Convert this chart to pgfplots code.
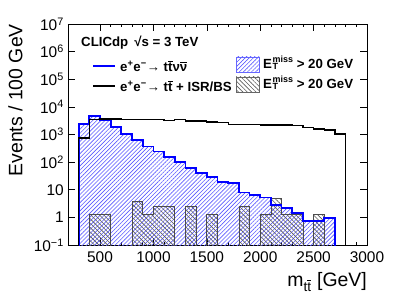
\documentclass[border=0pt]{standalone}
\usepackage{pgfplots}
\pgfplotsset{compat=1.18}
\usepackage{amsmath}
\usepackage{fontspec}
\setmainfont{Liberation Sans}
\usetikzlibrary{patterns.meta}
\newcommand{\tb}{\ensuremath{\overline{\mbox{t}}}}
\newcommand{\nub}{\ensuremath{\overline{\mbox{ν}}}}
\newcommand{\etmiss}{E\hspace{0.6bp}\rlap{\raisebox{-1bp}{\fontsize{9}{9}\selectfont T}}\raisebox{6.2bp}{\fontsize{9}{9}\selectfont miss}}
\begin{document}
\begin{tikzpicture}
\path[use as bounding box] (-68bp,-54bp) rectangle (331bp,245bp);
\begin{axis}[
  at={(0,0)}, anchor=south west,
  scale only axis, width=299bp, height=221bp,
  xmin=200, xmax=3000, ymin=0.1, ymax=1e7, ymode=log, log basis y=10,
  xtick={500,1000,1500,2000,2500,3000}, minor x tick num=4,
  ytick={0.1,1,10,100,1000,10000,100000,1000000,10000000},
  yticklabels={10\textsuperscript{−1},1,10,10\textsuperscript{2},10\textsuperscript{3},10\textsuperscript{4},10\textsuperscript{5},10\textsuperscript{6},10\textsuperscript{7}},
  tick align=inside,
  major tick length=7bp, minor tick length=3.5bp,
  every tick/.style={black, line width=0.6pt},
  axis line style={line width=0.8pt},
  /pgf/number format/assume math mode=true,
  /pgf/number format/1000 sep={},
  tick label style={font=\fontsize{15.5}{17}\selectfont},
  xticklabel style={inner sep=0pt, yshift=-7bp, anchor=north},
  yticklabel style={inner sep=0pt, xshift=-4bp, anchor=east},
  xlabel={m\textsubscript{t\tb} [GeV]},
  xlabel style={at={(axis description cs:1,-0.19)}, anchor=base east, inner sep=0pt, font=\fontsize{19.5}{22}\selectfont},
  ylabel={Events / 100 GeV},
  ylabel style={at={(axis description cs:-0.176,1)}, anchor=east, inner sep=0pt, font=\fontsize{19.5}{22}\selectfont},
  clip=true,
]
% blue hatched area (e+e- -> tt nu nu, ETmiss > 20 GeV)
\addplot[const plot, draw=none, pattern={Lines[angle=45,distance=2.9pt,line width=0.6pt]}, pattern color=blue!65] coordinates {
 (300,0.001) (300,2360) (400,4780) (500,3350) (600,1860) (700,1040) (800,630) (900,365)
 (1000,241) (1100,150) (1200,104) (1300,60) (1400,41.7) (1500,29.8) (1600,18.7) (1700,17.2)
 (1800,7.9) (1900,6.5) (2000,5.2) (2100,2.8) (2200,2.14) (2300,1.48) (2400,0.76) (2500,0.76)
 (2600,0.93) (2700,0.93) (2700,0.001)};
% grey hatched area (e+e- -> tt + ISR/BS, ETmiss > 20 GeV)
\addplot[const plot, draw=black!70, line width=0.7bp, pattern={Lines[angle=-45,distance=3.1pt,line width=0.6pt]}, pattern color=black!65] coordinates {
 (400,0.001) (400,1.25) (500,1.25) (600,0.001) (700,0.001) (800,3.75) (900,1.25) (1000,2.5)
 (1100,2.5) (1200,0.001) (1300,2.5) (1400,0.001) (1500,1.25) (1600,0.001) (1700,0.001)
 (1800,2.5) (1900,0.001) (2000,1.25) (2100,5.0) (2200,1.25) (2300,1.25) (2400,0.001)
 (2500,1.25) (2600,0.001)};
% blue outline
\addplot[const plot, blue, line width=1.8bp] coordinates {
 (300,0.001) (300,2360) (400,4780) (500,3350) (600,1860) (700,1040) (800,630) (900,365)
 (1000,241) (1100,150) (1200,104) (1300,60) (1400,41.7) (1500,29.8) (1600,18.7) (1700,17.2)
 (1800,7.9) (1900,6.5) (2000,5.2) (2100,2.8) (2200,2.14) (2300,1.48) (2400,0.76) (2500,0.76)
 (2600,0.93) (2700,0.93) (2700,0.001)};
% black line (e+e- -> tt + ISR/BS)
\addplot[const plot, black, line width=1.3bp] coordinates {
 (300,0.001) (300,740) (400,3400) (500,3600) (600,3600) (700,3550) (800,3500) (900,3450)
 (1000,3400) (1100,3300) (1200,3450) (1300,3100) (1400,3100) (1500,2860) (1600,2700)
 (1700,2350) (1800,2350) (1900,2350) (2000,2230) (2100,2230) (2200,2230) (2300,2080)
 (2400,1780) (2500,1600) (2600,1470) (2700,1050) (2800,1050) (2800,0.001)};
\end{axis}
% legend
\node[anchor=base west, inner sep=0pt, font=\fontsize{13.3}{15}\selectfont\bfseries] at (13bp,198bp) {CLICdp\hspace{0.45em}√s = 3 TeV};
\draw[blue, line width=1.8bp] (25bp,179bp) -- (47bp,179bp);
\node[anchor=west, inner sep=0pt, font=\fontsize{13.3}{15}\selectfont\bfseries] at (52bp,179bp) {e\textsuperscript{+}e\textsuperscript{−}→ t\tb ν\nub};
\draw[black, line width=1.3bp] (25bp,159bp) -- (47bp,159bp);
\node[anchor=west, inner sep=0pt, font=\fontsize{13.3}{15}\selectfont\bfseries] at (52bp,159bp) {e\textsuperscript{+}e\textsuperscript{−}→ t\tb{} + ISR/BS};
\draw[blue!60, line width=0.8bp, pattern={Lines[angle=45,distance=2.9pt,line width=0.6pt]}, pattern color=blue!65] (168bp,173bp) rectangle (191bp,188bp);
\draw[black!60, line width=0.8bp, pattern={Lines[angle=-45,distance=3.1pt,line width=0.6pt]}, pattern color=black!65] (168bp,153bp) rectangle (191bp,168bp);
\node[anchor=base west, inner sep=0pt, font=\fontsize{13.3}{15}\selectfont\bfseries] at (195bp,176bp) {\etmiss{} > 20 GeV};
\node[anchor=base west, inner sep=0pt, font=\fontsize{13.3}{15}\selectfont\bfseries] at (195bp,156bp) {\etmiss{} > 20 GeV};
\end{tikzpicture}
\end{document}
